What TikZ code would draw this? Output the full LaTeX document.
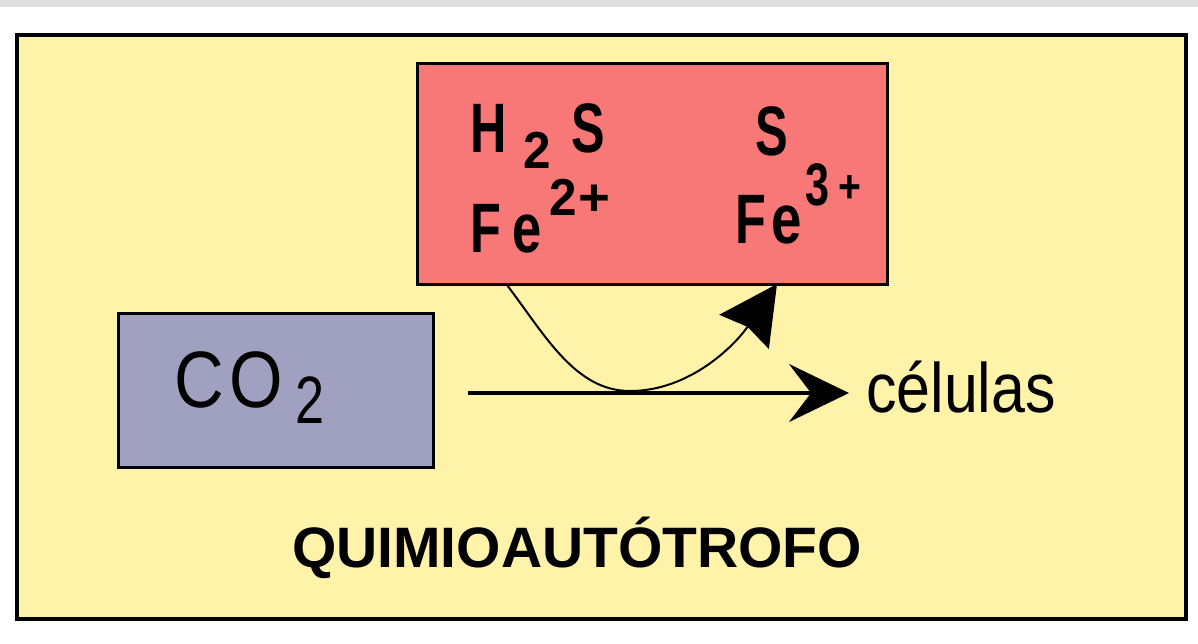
\documentclass[tikz,border=0pt]{standalone}
\usepackage{fontspec}
\setmainfont{Liberation Sans}
\usepackage{graphicx}
\usetikzlibrary{arrows.meta}
\definecolor{bgyellow}{RGB}{255,243,170}
\definecolor{boxred}{RGB}{248,120,120}
\definecolor{boxblue}{RGB}{160,160,192}
\definecolor{stripgray}{RGB}{224,224,224}
\newcommand\sqz[2]{\scalebox{#1}[1]{#2}}
\newcommand\fs[1]{\fontsize{#1}{#1}\selectfont}
\tikzset{
  panel/.style={draw=black, rectangle, inner sep=0pt, anchor=north west},
  chem/.style={inner sep=0pt, anchor=base west, font=\bfseries\fs{70}},
  plain/.style={inner sep=0pt, anchor=base west},
  mainarrow/.style={line width=3.5pt, -{Stealth[length=60pt,width=58pt,inset=22pt]}},
  curvearrow/.style={line width=2pt, -{Stealth[length=58pt,width=60pt,inset=6pt]}},
}
\begin{document}
\begin{tikzpicture}[x=1pt,y=-1pt]
\useasboundingbox (0,0) rectangle (1198,643);
\fill[white] (0,0) rectangle (1198,643);
\fill[stripgray] (0,0) rectangle (1198,7);
% frames
\node[panel, fill=bgyellow, line width=4pt, minimum width=1169pt, minimum height=584pt] (frame) at (15,33) {};
\node[panel, fill=boxred, line width=3pt, minimum width=470pt, minimum height=221pt] (red) at (416,62) {};
\node[panel, fill=boxblue, line width=3pt, minimum width=315pt, minimum height=154pt] (blue) at (117,312) {};
% red box texts
\node[chem] (h2s) at (470,152) {\sqz{0.72}{H}\hspace{17pt}\raisebox{-16pt}{\fs{52}\sqz{0.95}{2}}\hspace{20pt}\sqz{0.72}{S}};
\node[chem] (fe2) at (470,252) {\sqz{0.72}{F}\hspace{12pt}\sqz{0.75}{e}\hspace{7pt}\raisebox{37pt}{\fs{52}\sqz{0.95}{2}\hspace{2pt}\sqz{1.05}{+}}};
\node[chem] (s) at (755,155) {\sqz{0.7}{S}};
\node[chem] (fe3) at (735,243) {\sqz{0.72}{F}\hspace{6pt}\sqz{0.78}{e}\hspace{3pt}\raisebox{38pt}{\fs{60}\sqz{0.72}{3}}\hspace{9pt}\raisebox{41pt}{\fs{46}\sqz{0.85}{+}}};
% CO2
\node[plain, font=\fs{80}] (co2) at (174,407) {\sqz{0.86}{C}\hspace{6pt}\sqz{0.86}{O}\hspace{12pt}\raisebox{-16pt}{\fs{67}\sqz{0.78}{2}}};
% celulas
\node[plain, font=\fs{70}] (cel) at (866,412) {\sqz{0.87}{células}};
% title
\node[inner sep=0pt, anchor=base, font=\bfseries\fs{57}] (title) at (577,567) {QUIMIOAUTÓTROFO};
% arrows
\coordinate (a1) at (468,393);
\coordinate (a2) at (849,393);
\draw[mainarrow] (a1) -- (a2);
\coordinate (c1) at (507,285);
\coordinate (cm) at (630,391);
\coordinate (c2) at (777,284);
\draw[curvearrow] (c1) .. controls (545,335) and (575,391) .. (cm) .. controls (690,391) and (735,345) .. (c2);
\end{tikzpicture}
\end{document}
